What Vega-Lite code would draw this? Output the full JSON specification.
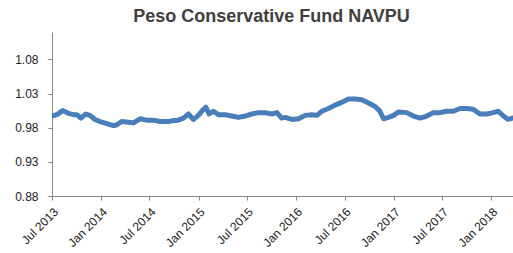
{
  "$schema": "https://vega.github.io/schema/vega-lite/v6.json",
  "width": 461,
  "height": 164,
  "autosize": {"type": "none"},
  "padding": {"left": 52, "top": 32, "right": 0, "bottom": 57},
  "background": "white",
  "title": {"text": "Peso Conservative Fund NAVPU", "fontSize": 18, "font": "Liberation Sans", "fontWeight": "bold", "color": "#404040", "anchor": "middle", "dx": -11, "offset": 6},
  "data": {"values": [
    {"date": "2013-07-01", "navpu": 0.997},
    {"date": "2013-07-19", "navpu": 0.999},
    {"date": "2013-08-10", "navpu": 1.005},
    {"date": "2013-08-31", "navpu": 1.001},
    {"date": "2013-09-19", "navpu": 0.999},
    {"date": "2013-10-02", "navpu": 0.999},
    {"date": "2013-10-17", "navpu": 0.994},
    {"date": "2013-11-05", "navpu": 1.000},
    {"date": "2013-11-20", "navpu": 0.998},
    {"date": "2013-12-09", "navpu": 0.992},
    {"date": "2013-12-28", "navpu": 0.989},
    {"date": "2014-01-22", "navpu": 0.986},
    {"date": "2014-02-16", "navpu": 0.983},
    {"date": "2014-02-28", "navpu": 0.984},
    {"date": "2014-03-19", "navpu": 0.989},
    {"date": "2014-04-13", "navpu": 0.988},
    {"date": "2014-05-02", "navpu": 0.987},
    {"date": "2014-05-27", "navpu": 0.993},
    {"date": "2014-06-21", "navpu": 0.991},
    {"date": "2014-07-15", "navpu": 0.991},
    {"date": "2014-08-09", "navpu": 0.989},
    {"date": "2014-09-09", "navpu": 0.989},
    {"date": "2014-09-22", "navpu": 0.990},
    {"date": "2014-10-17", "navpu": 0.991},
    {"date": "2014-11-05", "navpu": 0.994},
    {"date": "2014-11-24", "navpu": 1.000},
    {"date": "2014-12-12", "navpu": 0.992},
    {"date": "2014-12-31", "navpu": 0.998},
    {"date": "2015-01-15", "navpu": 1.005},
    {"date": "2015-01-28", "navpu": 1.010},
    {"date": "2015-02-09", "navpu": 1.000},
    {"date": "2015-02-25", "navpu": 1.004},
    {"date": "2015-03-16", "navpu": 0.999},
    {"date": "2015-04-10", "navpu": 0.999},
    {"date": "2015-05-05", "navpu": 0.997},
    {"date": "2015-05-30", "navpu": 0.995},
    {"date": "2015-06-24", "navpu": 0.997},
    {"date": "2015-07-19", "navpu": 1.000},
    {"date": "2015-08-13", "navpu": 1.002},
    {"date": "2015-09-07", "navpu": 1.002},
    {"date": "2015-10-02", "navpu": 1.000},
    {"date": "2015-10-21", "navpu": 1.002},
    {"date": "2015-11-08", "navpu": 0.994},
    {"date": "2015-11-21", "navpu": 0.995},
    {"date": "2015-12-16", "navpu": 0.992},
    {"date": "2016-01-10", "navpu": 0.993},
    {"date": "2016-02-04", "navpu": 0.998},
    {"date": "2016-02-29", "navpu": 0.999},
    {"date": "2016-03-19", "navpu": 0.998},
    {"date": "2016-04-06", "navpu": 1.004},
    {"date": "2016-05-01", "navpu": 1.008},
    {"date": "2016-05-26", "navpu": 1.013},
    {"date": "2016-06-20", "navpu": 1.017},
    {"date": "2016-07-15", "navpu": 1.022},
    {"date": "2016-08-09", "navpu": 1.022},
    {"date": "2016-09-03", "navpu": 1.021},
    {"date": "2016-09-28", "navpu": 1.016},
    {"date": "2016-10-23", "navpu": 1.011},
    {"date": "2016-11-08", "navpu": 1.005},
    {"date": "2016-11-24", "navpu": 0.993},
    {"date": "2016-12-12", "navpu": 0.995},
    {"date": "2016-12-31", "navpu": 0.998},
    {"date": "2017-01-18", "navpu": 1.003},
    {"date": "2017-02-18", "navpu": 1.002},
    {"date": "2017-03-15", "navpu": 0.997},
    {"date": "2017-04-10", "navpu": 0.994},
    {"date": "2017-05-04", "navpu": 0.997},
    {"date": "2017-05-29", "navpu": 1.002},
    {"date": "2017-06-23", "navpu": 1.002},
    {"date": "2017-07-17", "navpu": 1.004},
    {"date": "2017-08-11", "navpu": 1.004},
    {"date": "2017-09-06", "navpu": 1.008},
    {"date": "2017-09-30", "navpu": 1.008},
    {"date": "2017-10-25", "navpu": 1.007},
    {"date": "2017-11-19", "navpu": 1.000},
    {"date": "2017-12-14", "navpu": 1.000},
    {"date": "2018-01-08", "navpu": 1.002},
    {"date": "2018-01-27", "navpu": 1.004},
    {"date": "2018-02-15", "navpu": 0.997},
    {"date": "2018-03-05", "navpu": 0.992},
    {"date": "2018-03-21", "navpu": 0.994}
  ]},
  "mark": {"type": "line", "strokeWidth": 5, "color": "#4a7ebb", "strokeCap": "round", "strokeJoin": "round", "clip": true},
  "encoding": {
    "x": {
      "field": "date", "type": "temporal",
      "scale": {"type": "utc", "domain": [{"year": 2013, "month": 7, "date": 1, "utc": true}, {"year": 2018, "month": 3, "date": 23, "utc": true}]},
      "axis": {
        "title": null, "grid": false,
        "labelExpr": "utcFormat(datum.value, '%b %Y')",
        "values": [
          {"year": 2013, "month": 7, "date": 1, "utc": true},
          {"year": 2014, "month": 1, "date": 1, "utc": true},
          {"year": 2014, "month": 7, "date": 1, "utc": true},
          {"year": 2015, "month": 1, "date": 1, "utc": true},
          {"year": 2015, "month": 7, "date": 1, "utc": true},
          {"year": 2016, "month": 1, "date": 1, "utc": true},
          {"year": 2016, "month": 7, "date": 1, "utc": true},
          {"year": 2017, "month": 1, "date": 1, "utc": true},
          {"year": 2017, "month": 7, "date": 1, "utc": true},
          {"year": 2018, "month": 1, "date": 1, "utc": true}
        ],
        "labelAngle": -45, "labelFont": "Liberation Sans", "labelFontSize": 12, "labelColor": "#222",
        "domainColor": "#868686", "tickColor": "#868686", "tickSize": 4, "labelPadding": 6, "labelOverlap": false, "labelFlush": false
      }
    },
    "y": {
      "field": "navpu", "type": "quantitative",
      "scale": {"domain": [0.88, 1.12], "zero": false, "nice": false},
      "axis": {
        "title": null, "grid": false, "values": [0.88, 0.93, 0.98, 1.03, 1.08], "format": ".2f",
        "labelFont": "Liberation Sans", "labelFontSize": 12, "labelColor": "#222",
        "domainColor": "#868686", "tickColor": "#868686", "tickSize": 4, "labelPadding": 10
      }
    }
  },
  "config": {"view": {"stroke": null}}
}
